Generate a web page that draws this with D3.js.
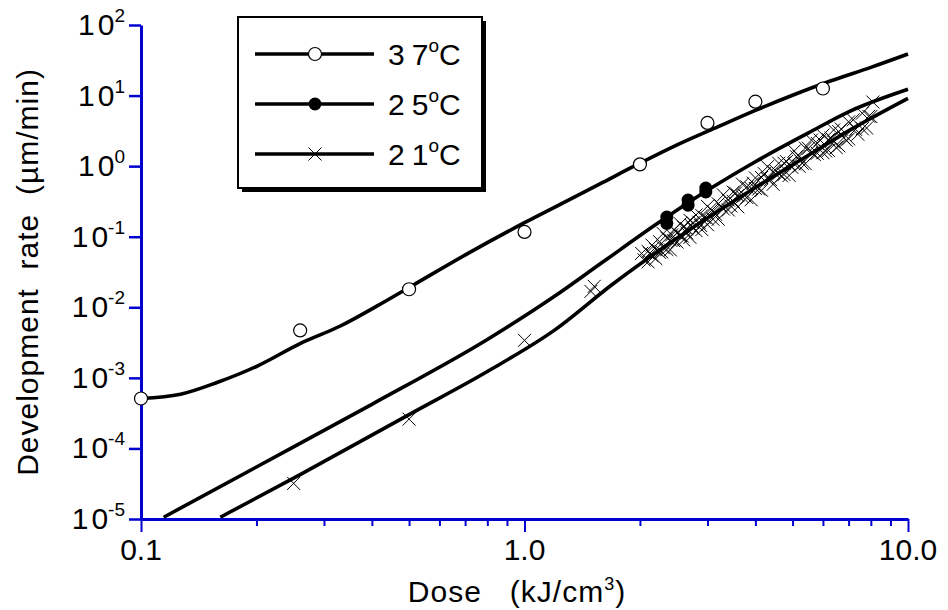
<!DOCTYPE html>
<html><head><meta charset="utf-8">
<script src="https://cdn.jsdelivr.net/npm/d3@7"></script>
<style>
html,body{margin:0;padding:0;background:#fff;}
svg{display:block;font-family:"Liberation Sans",Arial,sans-serif;}
</style></head><body>
<svg id="chart" width="948" height="610"></svg>
<script>
// ---- data ----
const dose37Curve = [0.1, 0.1268, 0.1578, 0.201, 0.2606, 0.331, 0.413, 0.514, 0.72, 1.0, 1.25, 1.6, 2.0, 2.5, 3.2, 4.0, 5.0, 6.3, 8.0, 10.0];
const rate37Curve = [5.1e-4, 5.86e-4, 8.59e-4, 1.47e-3, 3.08e-3, 5.43e-3, 0.01045, 0.0208, 0.060, 0.158, 0.295, 0.589, 1.10, 2.0, 3.63, 6.17, 10.1, 16.2, 25.1, 38.8];

const dose25Curve = [0.1146, 0.2, 0.4, 0.8, 1.2, 1.6, 2.2, 3.0, 4.0, 5.5, 7.0, 10.0];
const rate25Curve = [1.06e-5, 5.46e-5, 4.22e-4, 3.49e-3, 0.0144, 0.0437, 0.1486, 0.454, 1.156, 2.96, 5.89, 12.3];

const dose21Curve = [0.161, 0.26, 0.5, 0.8, 1.2, 1.7, 2.4, 3.2, 4.0, 5.5, 7.0, 10.0];
const rate21Curve = [1.06e-5, 4.25e-5, 3.02e-4, 1.23e-3, 4.79e-3, 0.0214, 0.082, 0.231, 0.499, 1.426, 3.16, 9.12];

const dose37Pts = [0.1, 0.26, 0.5, 1.0, 2.0, 3.0, 4.0, 6.0];
const rate37Pts = [5.1e-4, 4.7e-3, 0.018, 0.117, 1.06, 4.1, 8.2, 12.6];

const dose25Pts = [2.35, 2.35, 2.67, 2.67, 2.97, 2.97];
const rate25Pts = [0.19, 0.155, 0.33, 0.28, 0.49, 0.43];

const dose21Pts = [0.25, 0.5, 1.0, 1.49, 1.52, 2.02, 2.05,
  2.10, 2.10, 2.12, 2.15, 2.15, 2.20, 2.20, 2.25, 2.25, 2.28, 2.30, 2.30, 2.35, 2.35, 2.40, 2.40, 2.42,
  2.45, 2.45, 2.50, 2.50, 2.55, 2.55, 2.58, 2.60, 2.60, 2.65, 2.65, 2.70, 2.70, 2.72, 2.75, 2.75,
  2.80, 2.80, 2.85, 2.88, 2.90, 2.90, 2.95, 3.00, 3.00, 3.00, 3.05, 3.10, 3.10, 3.15, 3.20, 3.20, 3.25,
  3.30, 3.30, 3.40, 3.40, 3.45, 3.50, 3.50, 3.55, 3.60, 3.60, 3.70, 3.70, 3.75, 3.80, 3.80, 3.90, 3.90, 3.95,
  4.00, 4.00, 4.08, 4.15, 4.15, 4.22, 4.30, 4.30, 4.38, 4.45, 4.45, 4.52, 4.60, 4.60, 4.68, 4.75, 4.75, 4.82, 4.90, 4.90, 4.98,
  5.05, 5.05, 5.12, 5.20, 5.20, 5.30, 5.40, 5.40, 5.50, 5.60, 5.60, 5.70, 5.80, 5.80, 5.90, 6.00, 6.00, 6.10, 6.20, 6.20, 6.30,
  6.40, 6.40, 6.50, 6.60, 6.60, 6.70, 6.80, 6.90, 7.00, 7.00, 7.20, 7.30, 7.40, 7.60, 7.60, 7.80, 7.90, 8.00, 8.10];
const rate21Pts = [3.2e-5, 2.6e-4, 3.4e-3, 0.0168, 0.0198, 0.058, 0.047,
  0.044, 0.062, 0.058, 0.054, 0.076, 0.049, 0.066, 0.085, 0.060, 0.061, 0.070, 0.111, 0.066, 0.096, 0.090, 0.065, 0.106,
  0.125, 0.088, 0.084, 0.114, 0.104, 0.153, 0.102, 0.090, 0.136, 0.130, 0.113, 0.171, 0.098, 0.145, 0.132, 0.158,
  0.122, 0.203, 0.160, 0.144, 0.126, 0.199, 0.188, 0.178, 0.269, 0.148, 0.245, 0.229, 0.177, 0.208, 0.293, 0.177, 0.274,
  0.247, 0.392, 0.239, 0.330, 0.273, 0.318, 0.429, 0.416, 0.265, 0.384, 0.368, 0.557, 0.381, 0.359, 0.507, 0.483, 0.334, 0.574,
  0.681, 0.482, 0.474, 0.455, 0.689, 0.783, 0.664, 0.982, 0.643, 0.553, 0.838, 0.857, 0.782, 1.10, 0.730, 0.760, 1.10, 1.16, 1.07, 0.738, 0.96,
  1.64, 1.08, 1.36, 0.995, 1.37, 1.10, 1.80, 1.08, 1.79, 1.55, 2.34, 1.46, 1.52, 2.10, 2.34, 2.75, 1.55, 1.64, 2.37, 1.67, 2.51,
  3.25, 2.20, 1.83, 1.94, 3.08, 3.35, 2.53, 2.32, 2.44, 4.24, 4.53, 3.32, 2.83, 3.39, 5.62, 3.47, 5.09, 5.04, 8.1];

const xTickValues = [0.1,0.2,0.3,0.4,0.5,0.6,0.7,0.8,0.9,1,2,3,4,5,6,7,8,9,10];
const xMajorTicks = [0.1, 1, 10];
const xTickLabels = ["0.1", "1.0", "10.0"];
const yExponents = [2, 1, 0, -1, -2, -3, -4, -5];
const legendLabels = ["37", "25", "21"];

// ---- scales ----
const svg = d3.select("#chart");
const x = d3.scaleLog().domain([0.1, 10]).range([141, 908]);
const y = d3.scaleLog().domain([1e-5, 1e2]).range([519, 25]);
const blue = "#0000d0";

svg.append("defs").append("clipPath").attr("id", "plotclip")
  .append("rect").attr("x", 139).attr("y", 20).attr("width", 775).attr("height", 499);

// ---- axes ----
const xAxis = svg.append("g").attr("transform", "translate(0,519)")
  .call(d3.axisBottom(x).tickValues(xTickValues).tickSizeInner(7).tickSizeOuter(0).tickFormat(""));
xAxis.select(".domain").attr("stroke", blue).attr("stroke-width", 3);
xAxis.selectAll(".tick line").attr("stroke", blue).attr("stroke-width", 2)
  .attr("y2", d => xMajorTicks.includes(d) ? 13 : 7);

const yAxis = svg.append("g").attr("transform", "translate(141,0)")
  .call(d3.axisLeft(y).tickValues(yExponents.map(e => Math.pow(10, e))).tickSizeInner(12).tickSizeOuter(0).tickFormat(""));
yAxis.select(".domain").attr("stroke", blue).attr("stroke-width", 3);
yAxis.selectAll(".tick line").attr("stroke", blue).attr("stroke-width", 2.5);

// x tick labels
svg.append("g").selectAll("text").data(xMajorTicks).join("text")
  .attr("x", d => x(d)).attr("y", 560)
  .attr("text-anchor", "middle").attr("font-size", 30)
  .text((d, i) => xTickLabels[i]);

// y tick labels with superscript exponents
const yl = svg.append("g").selectAll("text").data(yExponents).join("text")
  .attr("x", 125).attr("y", d => y(Math.pow(10, d)) + 10)
  .attr("text-anchor", "end").attr("font-size", 30);
yl.append("tspan").text("1");
yl.append("tspan").attr("dx", 3).text("0");
yl.append("tspan").attr("dy", -13).attr("font-size", 19).text(d => String(d));

// axis titles
const xt = svg.append("text").attr("x", 517).attr("y", 602).attr("text-anchor", "middle")
  .attr("font-size", 30).attr("letter-spacing", 1).style("white-space", "pre");
xt.append("tspan").text("Dose   (kJ/cm");
xt.append("tspan").attr("dy", -12).attr("font-size", 18).text("3");
xt.append("tspan").attr("dy", 12).text(")");

svg.append("text").attr("transform", "translate(38,272) rotate(-90)")
  .attr("text-anchor", "middle").attr("font-size", 30).attr("letter-spacing", 1).style("white-space", "pre")
  .text("Development  rate  (\u00b5m/min)");

// ---- curves ----
const line = d3.line().x(d => x(d[0])).y(d => y(d[1])).curve(d3.curveMonotoneX);
const plot = svg.append("g").attr("clip-path", "url(#plotclip)");
[[dose37Curve, rate37Curve], [dose25Curve, rate25Curve], [dose21Curve, rate21Curve]].forEach(([ds, rs]) => {
  plot.append("path").datum(ds.map((d, i) => [d, rs[i]]))
    .attr("d", line).attr("fill", "none").attr("stroke", "#000").attr("stroke-width", 3.6);
});

// ---- markers ----
const cross = (g, cx, cy, s) => g.append("path")
  .attr("d", `M${cx - s},${cy - s}L${cx + s},${cy + s}M${cx - s},${cy + s}L${cx + s},${cy - s}`)
  .attr("stroke", "#000").attr("stroke-width", 1).attr("fill", "none");

const m21 = svg.append("g");
dose21Pts.forEach((d, i) => cross(m21, x(d), y(rate21Pts[i]), 6.5));

svg.append("g").selectAll("circle").data(dose25Pts).join("circle")
  .attr("cx", d => x(d)).attr("cy", (d, i) => y(rate25Pts[i])).attr("r", 6.5)
  .attr("fill", "#000");

svg.append("g").selectAll("circle").data(dose37Pts).join("circle")
  .attr("cx", d => x(d)).attr("cy", (d, i) => y(rate37Pts[i])).attr("r", 6.5)
  .attr("fill", "#fff").attr("stroke", "#000").attr("stroke-width", 1.2);

// ---- legend ----
const lg = svg.append("g");
lg.append("rect").attr("x", 242).attr("y", 21).attr("width", 244).attr("height", 171).attr("fill", "#000");
lg.append("rect").attr("x", 238).attr("y", 17).attr("width", 244).attr("height", 171)
  .attr("fill", "#fff").attr("stroke", "#000").attr("stroke-width", 2);
const rowsY = [54, 104, 154];
legendLabels.forEach((lab, i) => {
  const ry = rowsY[i];
  lg.append("line").attr("x1", 255).attr("x2", 374).attr("y1", ry).attr("y2", ry)
    .attr("stroke", "#000").attr("stroke-width", 3.6);
  if (i === 0) lg.append("circle").attr("cx", 315).attr("cy", ry).attr("r", 6.5)
    .attr("fill", "#fff").attr("stroke", "#000").attr("stroke-width", 1.2);
  if (i === 1) lg.append("circle").attr("cx", 315).attr("cy", ry).attr("r", 6.5).attr("fill", "#000");
  if (i === 2) cross(lg, 315, ry, 6.5);
  const t = lg.append("text").attr("x", 388).attr("y", ry + 11).attr("font-size", 30);
  t.append("tspan").text(lab[0]);
  t.append("tspan").attr("dx", 7).text(lab[1]);
  t.append("tspan").attr("dy", -13).attr("font-size", 19).text("o");
  t.append("tspan").attr("dy", 13).text("C");
});
</script>
</body></html>
